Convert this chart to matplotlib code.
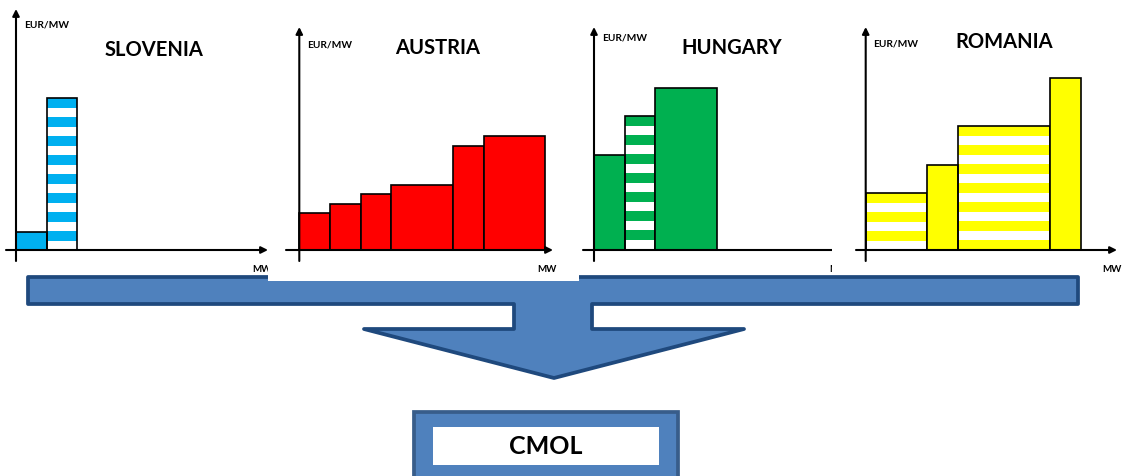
import matplotlib
matplotlib.use("Agg")
import matplotlib.pyplot as plt
from matplotlib.patches import Polygon, Rectangle
import numpy as np

plt.rcParams['font.family'] = ['Lato', 'DejaVu Sans']

# merit-order offers per country: block sizes (MW units) and prices (EUR/MW units)
slo_widths = [1, 1]
slo_prices = [1.8, 15.2]
slo_striped = [False, True]

aut_widths = [1, 1, 1, 2, 1, 2]
aut_prices = [3.7, 4.6, 5.6, 6.5, 10.4, 11.4]
aut_striped = [False] * 6

hun_widths = [1, 1, 2]
hun_prices = [9.5, 13.4, 16.2]
hun_striped = [False, True, False]

rou_widths = [2, 1, 3, 1]
rou_prices = [5.7, 8.5, 12.4, 17.2]
rou_striped = [True, False, True, False]

countries = ['SLOVENIA', 'AUSTRIA', 'HUNGARY', 'ROMANIA']
colors = ['#00B0F0', '#FF0000', '#00B050', '#FFFF00']

W, H = 1123, 477
SX = 30.7   # pixels per MW unit
SY = 10.0   # pixels per EUR/MW unit
STRIPE_PERIOD = 1.9
STRIPE_BAND = 0.95

# panel layout in pixels
layout = [
    dict(rect=(0, 0, 268, 276), origin=(16, 251), x_from=6, x_to=268, y_top=10,
         unit_pos=(24, 25), title_pos=(154, 50), mw_pos=(252, 270)),
    dict(rect=(268, 0, 579, 282), origin=(299.3, 251), x_from=286, x_to=553, y_top=28,
         unit_pos=(307, 45), title_pos=(438, 48), mw_pos=(537, 270)),
    dict(rect=(579, 0, 832, 276), origin=(594, 251), x_from=583, x_to=845, y_top=28,
         unit_pos=(602, 38), title_pos=(732, 48), mw_pos=(829, 270)),
    dict(rect=(832, 0, W, 276), origin=(865.7, 251), x_from=856, x_to=1117, y_top=28,
         unit_pos=(873, 44), title_pos=(1004, 42), mw_pos=(1102, 270)),
]
series = [
    (slo_widths, slo_prices, slo_striped),
    (aut_widths, aut_prices, aut_striped),
    (hun_widths, hun_prices, hun_striped),
    (rou_widths, rou_prices, rou_striped),
]

fig = plt.figure(figsize=(W / 100, H / 100), dpi=100)

# background layer: collecting arrow and CMOL box
bg = fig.add_axes([0, 0, 1, 1], zorder=0)
bg.set_xlim(0, W)
bg.set_ylim(H, 0)
bg.set_axis_off()

funnel = [(28, 278), (1078, 278), (1078, 305), (592, 305), (592, 330), (744, 330),
          (554, 379), (364, 330), (514, 330), (514, 305), (28, 305)]
bg.add_patch(Polygon(funnel, closed=True, fc='#4F81BD', ec='#1F497D', lw=2.7,
                     joinstyle='round'))
bg.add_patch(Rectangle((414, 413), 264, 80, fc='#4F81BD', ec='#385D8A', lw=2.7))
bg.add_patch(Rectangle((433, 428), 226, 38, fc='white', ec='none'))
bg.text(546, 447, 'CMOL', ha='center', va='center', fontsize=18, fontweight='bold')

for name, color, (widths, prices, striped), lay in zip(countries, colors, series, layout):
    x0, y0, x1, y1 = lay['rect']
    ox, oy = lay['origin']
    ax = fig.add_axes([x0 / W, 1 - y1 / H, (x1 - x0) / W, (y1 - y0) / H], zorder=1)
    ax.set_facecolor('white')
    for sp in ax.spines.values():
        sp.set_visible(False)
    ax.set_xticks([])
    ax.set_yticks([])
    ax.set_xlim((x0 - ox) / SX, (x1 - ox) / SX)
    ax.set_ylim((oy - y1) / SY, (oy - y0) / SY)

    dx = lambda x: (x - ox) / SX
    dy = lambda y: (oy - y) / SY

    lefts = np.concatenate([[0], np.cumsum(widths)[:-1]])
    for left, w, p, s in zip(lefts, widths, prices, striped):
        if s:
            ax.bar(left, p, w, align='edge', color='white', lw=0, zorder=2)
            top = p
            while top > 0:
                b = max(top - STRIPE_BAND, 0)
                ax.bar(left, top - b, w, bottom=b, align='edge', color=color,
                       lw=0, zorder=2)
                top -= STRIPE_PERIOD
            ax.bar(left, p, w, align='edge', fill=False, edgecolor='black',
                   lw=1.2, zorder=3)
        else:
            ax.bar(left, p, w, align='edge', color=color, edgecolor='black',
                   lw=1.2, zorder=3)

    arrow = dict(arrowstyle='-|>', color='black', lw=1.5, mutation_scale=10,
                 shrinkA=0, shrinkB=0)
    ax.annotate('', xy=(0, dy(lay['y_top'])), xytext=(0, dy(262)),
                arrowprops=arrow, annotation_clip=False, zorder=4)
    ax.annotate('', xy=(dx(lay['x_to']), 0), xytext=(dx(lay['x_from']), 0),
                arrowprops=arrow, annotation_clip=False, zorder=4)

    ux, uy = lay['unit_pos']
    ax.text(dx(ux), dy(uy), 'EUR/MW', ha='left', va='center', fontsize=7.3,
            fontweight='bold')
    tx, ty = lay['title_pos']
    ax.text(dx(tx), dy(ty), name, ha='center', va='center', fontsize=14.5,
            fontweight='bold')
    mx, my = lay['mw_pos']
    ax.text(dx(mx), dy(my), 'MW', ha='left', va='center', fontsize=7,
            fontweight='bold')

fig.savefig('out.png', dpi=100, facecolor='white')
